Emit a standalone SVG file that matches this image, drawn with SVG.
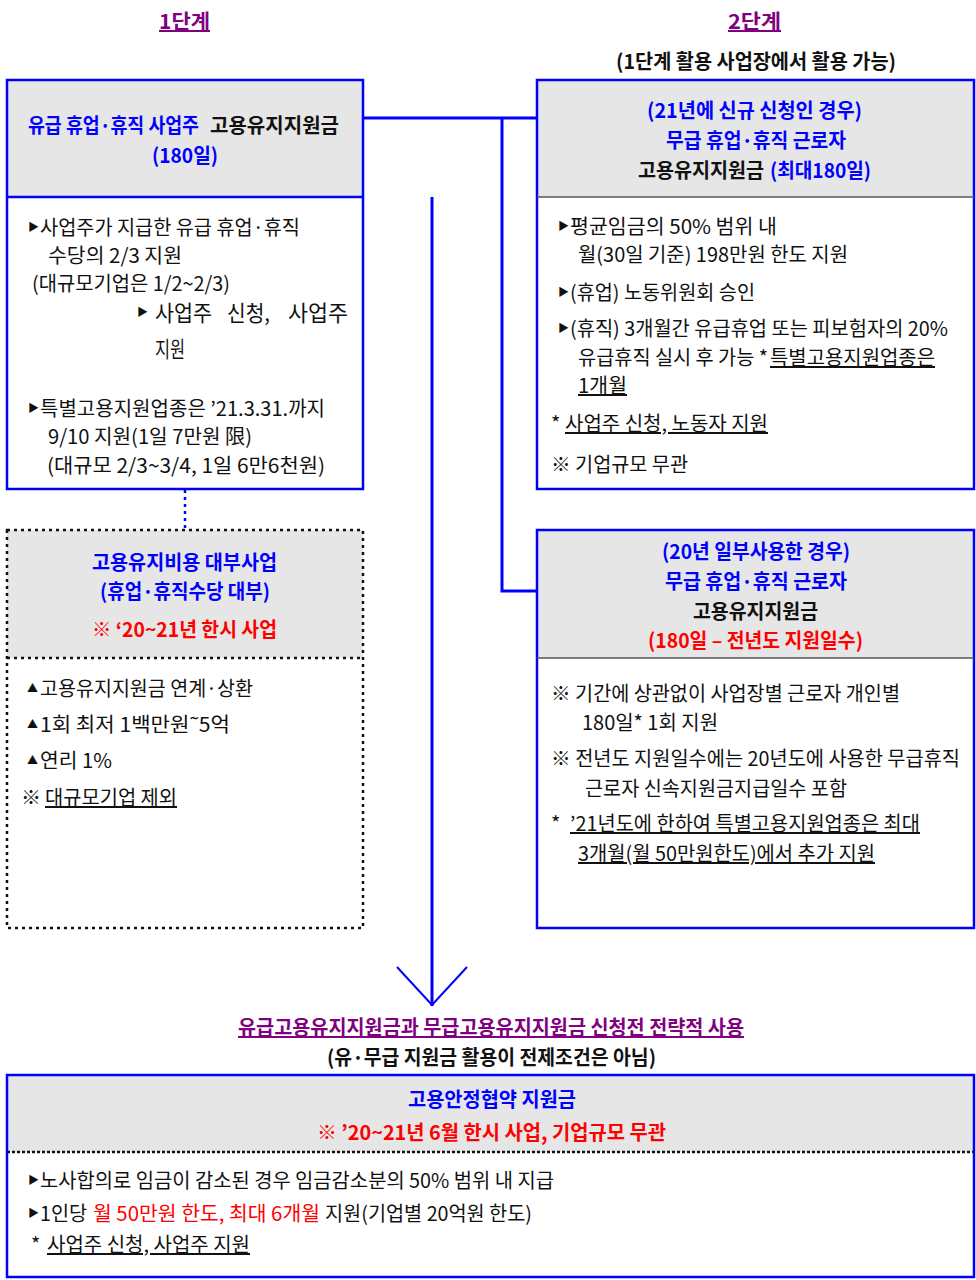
<svg xmlns="http://www.w3.org/2000/svg" width="976" height="1280" viewBox="0 0 976 1280">
<style>
text{font-family:"Noto Sans CJK KR","Noto Sans",sans-serif;font-size:20px;fill:#111;}
.b{font-weight:700}
.blue{fill:#0000ff}
.red{fill:#ff0000}
.pur{fill:#800080}
.u{text-decoration:underline}
.bul{font-size:11px}
.lg{font-size:22px}
.hdr{fill:#e6e6e6}
.bx{fill:none;stroke:#0000ff;stroke-width:2.5}
.sep{stroke:#555;stroke-width:1.5}
.dot{fill:none;stroke:#111;stroke-width:2.5;stroke-dasharray:3 4}
.con{fill:none;stroke:#0000ff;stroke-width:3}
</style>
<defs>
<marker id="ah" viewBox="0 0 40 72" refX="40" refY="36" markerWidth="40" markerHeight="72" markerUnits="userSpaceOnUse" orient="auto">
<path d="M1,1 L39,36 L1,71" fill="none" stroke="#0000ff" stroke-width="2"/>
</marker>
</defs>
<rect width="976" height="1280" fill="#fff"/>

<g id="titles">
<text class="b pur u" x="159" y="29" textLength="51" lengthAdjust="spacingAndGlyphs">1단계</text>
<text class="b pur u" x="728" y="29" textLength="53" lengthAdjust="spacingAndGlyphs">2단계</text>
<text class="b" x="616" y="69" textLength="280" lengthAdjust="spacingAndGlyphs">(1단계 활용 사업장에서 활용 가능)</text>
</g>

<g id="connectors">
<path class="con" d="M363,118 H537"/>
<path class="con" d="M502,118 V591 H537"/>
<path class="con" d="M432,197 V1006" stroke-width="2" marker-end="url(#ah)"/>
<path d="M185,490 V530" fill="none" stroke="#0000ff" stroke-width="2.5" stroke-dasharray="3 4"/>
</g>

<g id="paid-employer">
<rect class="hdr" x="7" y="80" width="356" height="117"/>
<rect x="7" y="197" width="356" height="292" fill="#fff"/>
<rect class="bx" x="7" y="80" width="356" height="409"/>
<line x1="7" y1="197" x2="363" y2="197" stroke="#0000ff" stroke-width="2.5"/>
<text class="b blue" x="28" y="133" textLength="171" lengthAdjust="spacingAndGlyphs">유급 휴업·휴직 사업주</text>
<text class="b" x="210" y="133" textLength="129" lengthAdjust="spacingAndGlyphs">고용유지지원금</text>
<text class="b blue" x="152" y="163" textLength="66" lengthAdjust="spacingAndGlyphs">(180일)</text>
<text class="bul" x="28" y="231">▶</text>
<text x="40" y="235" textLength="260" lengthAdjust="spacingAndGlyphs">사업주가 지급한 유급 휴업·휴직</text>
<text x="48" y="263" textLength="134" lengthAdjust="spacingAndGlyphs">수당의 2/3 지원</text>
<text x="32" y="291" textLength="198" lengthAdjust="spacingAndGlyphs">(대규모기업은 1/2~2/3)</text>
<text class="bul" x="137" y="316">▶</text>
<text class="lg" x="155" y="321" textLength="57" lengthAdjust="spacingAndGlyphs">사업주</text>
<text class="lg" x="227" y="321" textLength="43" lengthAdjust="spacingAndGlyphs">신청,</text>
<text class="lg" x="288" y="321" textLength="60" lengthAdjust="spacingAndGlyphs">사업주</text>
<text class="lg" x="155" y="357" textLength="30" lengthAdjust="spacingAndGlyphs">지원</text>
<text class="bul" x="28" y="412">▶</text>
<text x="40" y="416" textLength="285" lengthAdjust="spacingAndGlyphs">특별고용지원업종은 ’21.3.31.까지</text>
<text x="48" y="444" textLength="204" lengthAdjust="spacingAndGlyphs">9/10 지원(1일 7만원 限)</text>
<text x="47" y="473" textLength="278" lengthAdjust="spacingAndGlyphs">(대규모 2/3~3/4, 1일 6만6천원)</text>
</g>

<g id="loan">
<rect class="hdr" x="7" y="530" width="356" height="128"/>
<rect class="dot" x="7" y="530" width="356" height="398"/>
<line x1="7" y1="658" x2="363" y2="658" stroke="#111" stroke-width="2.5" stroke-dasharray="3 4"/>
<text class="b blue" x="92" y="570" textLength="185" lengthAdjust="spacingAndGlyphs">고용유지비용 대부사업</text>
<text class="b blue" x="100" y="599" textLength="170" lengthAdjust="spacingAndGlyphs">(휴업·휴직수당 대부)</text>
<text class="b red" x="92" y="637" textLength="185" lengthAdjust="spacingAndGlyphs">※ ‘20~21년 한시 사업</text>
<text class="bul" x="27" y="692">▲</text>
<text x="40" y="696" textLength="213" lengthAdjust="spacingAndGlyphs">고용유지지원금 연계·상환</text>
<text class="bul" x="27" y="728">▲</text>
<text x="40" y="732" textLength="190" lengthAdjust="spacingAndGlyphs">1회 최저 1백만원˜5억</text>
<text class="bul" x="27" y="764">▲</text>
<text x="40" y="768" textLength="72" lengthAdjust="spacingAndGlyphs">연리 1%</text>
<text x="21" y="805">※</text>
<text class="u" x="45" y="805" textLength="132" lengthAdjust="spacingAndGlyphs">대규모기업 제외</text>
</g>

<g id="unpaid-new">
<rect class="hdr" x="537" y="80" width="437" height="117"/>
<rect class="bx" x="537" y="80" width="437" height="409"/>
<line class="sep" x1="537" y1="197" x2="974" y2="197"/>
<text class="b blue" x="647" y="118" textLength="215" lengthAdjust="spacingAndGlyphs">(21년에 신규 신청인 경우)</text>
<text class="b blue" x="666" y="148" textLength="180" lengthAdjust="spacingAndGlyphs">무급 휴업·휴직 근로자</text>
<text class="b" x="638" y="178" textLength="126" lengthAdjust="spacingAndGlyphs">고용유지지원금</text>
<text class="b blue" x="770" y="178" textLength="101" lengthAdjust="spacingAndGlyphs">(최대180일)</text>
<text class="bul" x="558" y="230">▶</text>
<text x="570" y="234" textLength="207" lengthAdjust="spacingAndGlyphs">평균임금의  50% 범위 내</text>
<text x="578" y="262" textLength="270" lengthAdjust="spacingAndGlyphs">월(30일 기준) 198만원 한도 지원</text>
<text class="bul" x="558" y="296">▶</text>
<text x="570" y="300" textLength="185" lengthAdjust="spacingAndGlyphs">(휴업) 노동위원회 승인</text>
<text class="bul" x="558" y="332">▶</text>
<text x="570" y="336" textLength="378" lengthAdjust="spacingAndGlyphs">(휴직) 3개월간 유급휴업 또는 피보험자의 20%</text>
<text x="578" y="365" textLength="190" lengthAdjust="spacingAndGlyphs">유급휴직 실시 후 가능 *</text>
<text class="u" x="770" y="365" textLength="165" lengthAdjust="spacingAndGlyphs">특별고용지원업종은</text>
<text class="u" x="578" y="393" textLength="49" lengthAdjust="spacingAndGlyphs">1개월</text>
<text x="551" y="431">*</text>
<text class="u" x="565" y="431" textLength="203" lengthAdjust="spacingAndGlyphs">사업주 신청, 노동자 지원</text>
<text x="551" y="472" textLength="137" lengthAdjust="spacingAndGlyphs">※ 기업규모 무관</text>
</g>

<g id="unpaid-partial">
<rect class="hdr" x="537" y="530" width="437" height="128"/>
<rect class="bx" x="537" y="530" width="437" height="398"/>
<line class="sep" x1="537" y1="658" x2="974" y2="658"/>
<text class="b blue" x="662" y="559" textLength="188" lengthAdjust="spacingAndGlyphs">(20년 일부사용한 경우)</text>
<text class="b blue" x="665" y="589" textLength="182" lengthAdjust="spacingAndGlyphs">무급 휴업·휴직 근로자</text>
<text class="b" x="693" y="619" textLength="125" lengthAdjust="spacingAndGlyphs">고용유지지원금</text>
<text class="b red" x="648" y="648" textLength="215" lengthAdjust="spacingAndGlyphs">(180일 – 전년도 지원일수)</text>
<text x="551" y="701" textLength="349" lengthAdjust="spacingAndGlyphs">※ 기간에 상관없이 사업장별 근로자 개인별</text>
<text x="582" y="730" textLength="136" lengthAdjust="spacingAndGlyphs">180일* 1회 지원</text>
<text x="551" y="766" textLength="409" lengthAdjust="spacingAndGlyphs">※ 전년도 지원일수에는 20년도에 사용한 무급휴직</text>
<text x="585" y="796" textLength="262" lengthAdjust="spacingAndGlyphs">근로자 신속지원금지급일수 포함</text>
<text x="551" y="831">*</text>
<text class="u" x="570" y="831" textLength="350" lengthAdjust="spacingAndGlyphs">’21년도에 한하여 특별고용지원업종은 최대</text>
<text class="u" x="578" y="861" textLength="297" lengthAdjust="spacingAndGlyphs">3개월(월 50만원한도)에서 추가 지원</text>
</g>

<g id="strategy-title">
<text class="b pur u" x="238" y="1035" textLength="506" lengthAdjust="spacingAndGlyphs">유급고용유지지원금과 무급고용유지지원금 신청전 전략적 사용</text>
<text class="b" x="327" y="1065" textLength="329" lengthAdjust="spacingAndGlyphs">(유·무급 지원금 활용이 전제조건은 아님)</text>
</g>

<g id="stability-agreement">
<rect class="hdr" x="7" y="1075" width="967" height="77"/>
<rect class="bx" x="7" y="1075" width="967" height="202"/>
<line x1="7" y1="1152" x2="974" y2="1152" stroke="#111" stroke-width="2.5" stroke-dasharray="3 2"/>
<text class="b blue" x="408" y="1107" textLength="168" lengthAdjust="spacingAndGlyphs">고용안정협약 지원금</text>
<text class="b red" x="317" y="1140" textLength="349" lengthAdjust="spacingAndGlyphs">※ ’20~21년 6월 한시 사업, 기업규모 무관</text>
<text class="bul" x="28" y="1184">▶</text>
<text x="40" y="1188" textLength="514" lengthAdjust="spacingAndGlyphs">노사합의로 임금이 감소된 경우 임금감소분의 50% 범위 내 지급</text>
<text class="bul" x="28" y="1217">▶</text>
<text x="40" y="1221" textLength="47" lengthAdjust="spacingAndGlyphs">1인당</text>
<text class="red" x="93" y="1221" textLength="227" lengthAdjust="spacingAndGlyphs">월 50만원 한도, 최대 6개월</text>
<text x="325" y="1221" textLength="207" lengthAdjust="spacingAndGlyphs">지원(기업별 20억원 한도)</text>
<text x="31" y="1252">*</text>
<text class="u" x="47" y="1252" textLength="203" lengthAdjust="spacingAndGlyphs">사업주 신청, 사업주 지원</text>
</g>
</svg>
